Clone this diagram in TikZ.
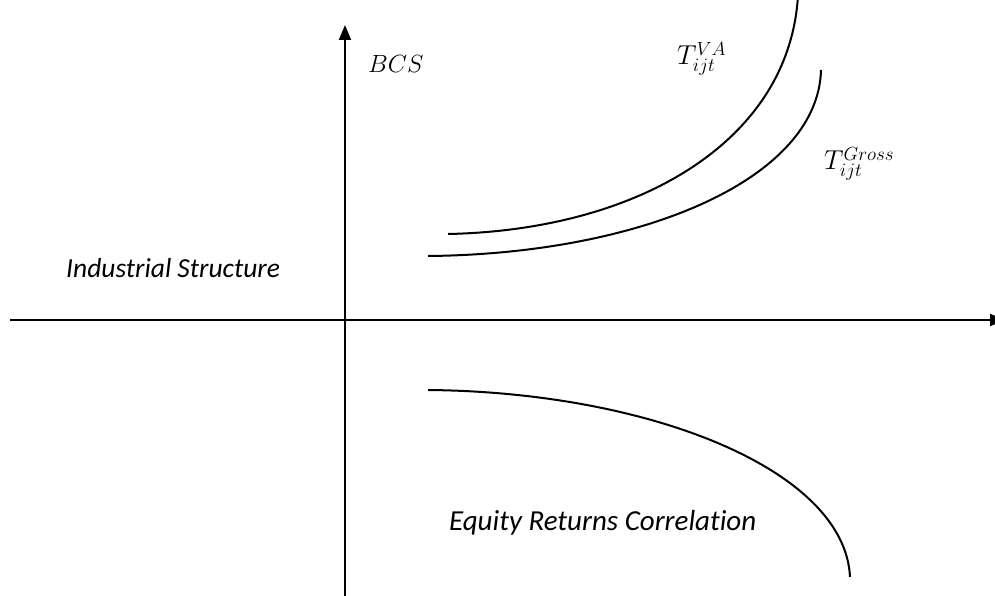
\documentclass[tikz,border=0pt]{standalone}
\usepackage{graphicx}
\usepackage{fontspec}
\setsansfont{Carlito}[Ligatures=NoCommon]
\usetikzlibrary{arrows.meta}
\newcommand{\scr}[1]{\mbox{\fontsize{17.28}{18}\selectfont$#1$}}
\tikzset{
  axis/.style={line width=2pt, -{Triangle[length=15pt,width=12pt]}},
  curve/.style={line width=2pt},
  mathlbl/.style={inner sep=0pt, font=\fontsize{24.88}{26}\selectfont},
  txtlbl/.style={inner sep=0pt, font=\fontsize{27.5}{30}\selectfont\sffamily\itshape}
}
\begin{document}
\begin{tikzpicture}[x=1pt,y=-1pt]
\useasboundingbox (0,0) rectangle (995,596);
% axes
\coordinate (yb) at (345,596);
\coordinate (yt) at (345,25);
\coordinate (xl) at (10,320);
\coordinate (xr) at (1005,320);
\draw[axis] (yb) -- (yt);
\draw[axis] (xl) -- (xr);
% curves
\draw[curve] (448,234) .. controls (640,230) and (790,140) .. (798,-5);
\draw[curve] (428,256) .. controls (640,254) and (818,180) .. (821,70);
\draw[curve] (428,390) .. controls (650,392) and (845,470) .. (850,577);
% labels
\node[mathlbl, anchor=base west] (bcs) at (368,73) {$BCS$};
\node[mathlbl, anchor=base west] (tva) at (677,65) {\scalebox{1.1}{$T^{\scr{VA}}_{\scr{ijt}}$}};
\node[mathlbl, anchor=base west] (tgross) at (824,170) {\scalebox{1.1}{$T^{\scr{Gross}}_{\scr{ijt}}$}};
\node[txtlbl, anchor=base west] (ind) at (66,277) {Industrial Structure};
\node[txtlbl, anchor=base west, font=\fontsize{29}{30}\selectfont\sffamily\itshape] (eq) at (449,530) {Equity Returns Correlation};
\end{tikzpicture}
\end{document}
